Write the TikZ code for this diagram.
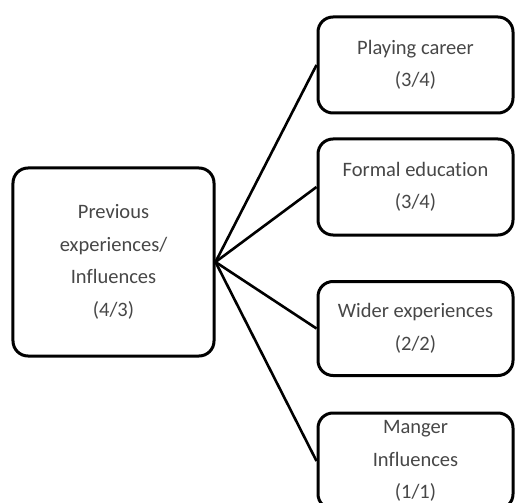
\documentclass[tikz,border=0pt]{standalone}
\usepackage{fontspec}
\setmainfont{Carlito}[Ligatures=NoCommon]
\begin{document}
\begin{tikzpicture}[x=1bp,y=-1bp,
  box/.style={draw=black, line width=3bp, rounded corners=15bp, fill=white,
    align=center, text=black!72, inner sep=0pt,
    font=\fontsize{20.5bp}{32.5bp}\selectfont},
  smallbox/.style={box, minimum width=195bp, minimum height=96bp},
  link/.style={draw=black, line width=2.6bp}]
\useasboundingbox (0,0) rectangle (516,503);
\clip (0,0) rectangle (516,503);

% source box on the left
\node[box, minimum width=201bp, minimum height=188bp] (prev) at (113.5,262)
  {Previous\\experiences/\\Influences\\(4/3)};

% category boxes on the right
\node[smallbox] (play) at (415.5,65) {Playing career\\(3/4)};
\node[smallbox] (formal) at (415.5,187) {Formal education\\(3/4)};
\node[smallbox, minimum height=94bp] (wider) at (415.5,328.5) {Wider experiences\\(2/2)};
\node[smallbox] (manger) at (415.5,461) {Manger\\Influences\\(1/1)};

% connectors fanning out from the source box
\foreach \t in {play,formal,wider,manger}
  \draw[link] (prev.east) -- (\t.west);
\end{tikzpicture}
\end{document}
